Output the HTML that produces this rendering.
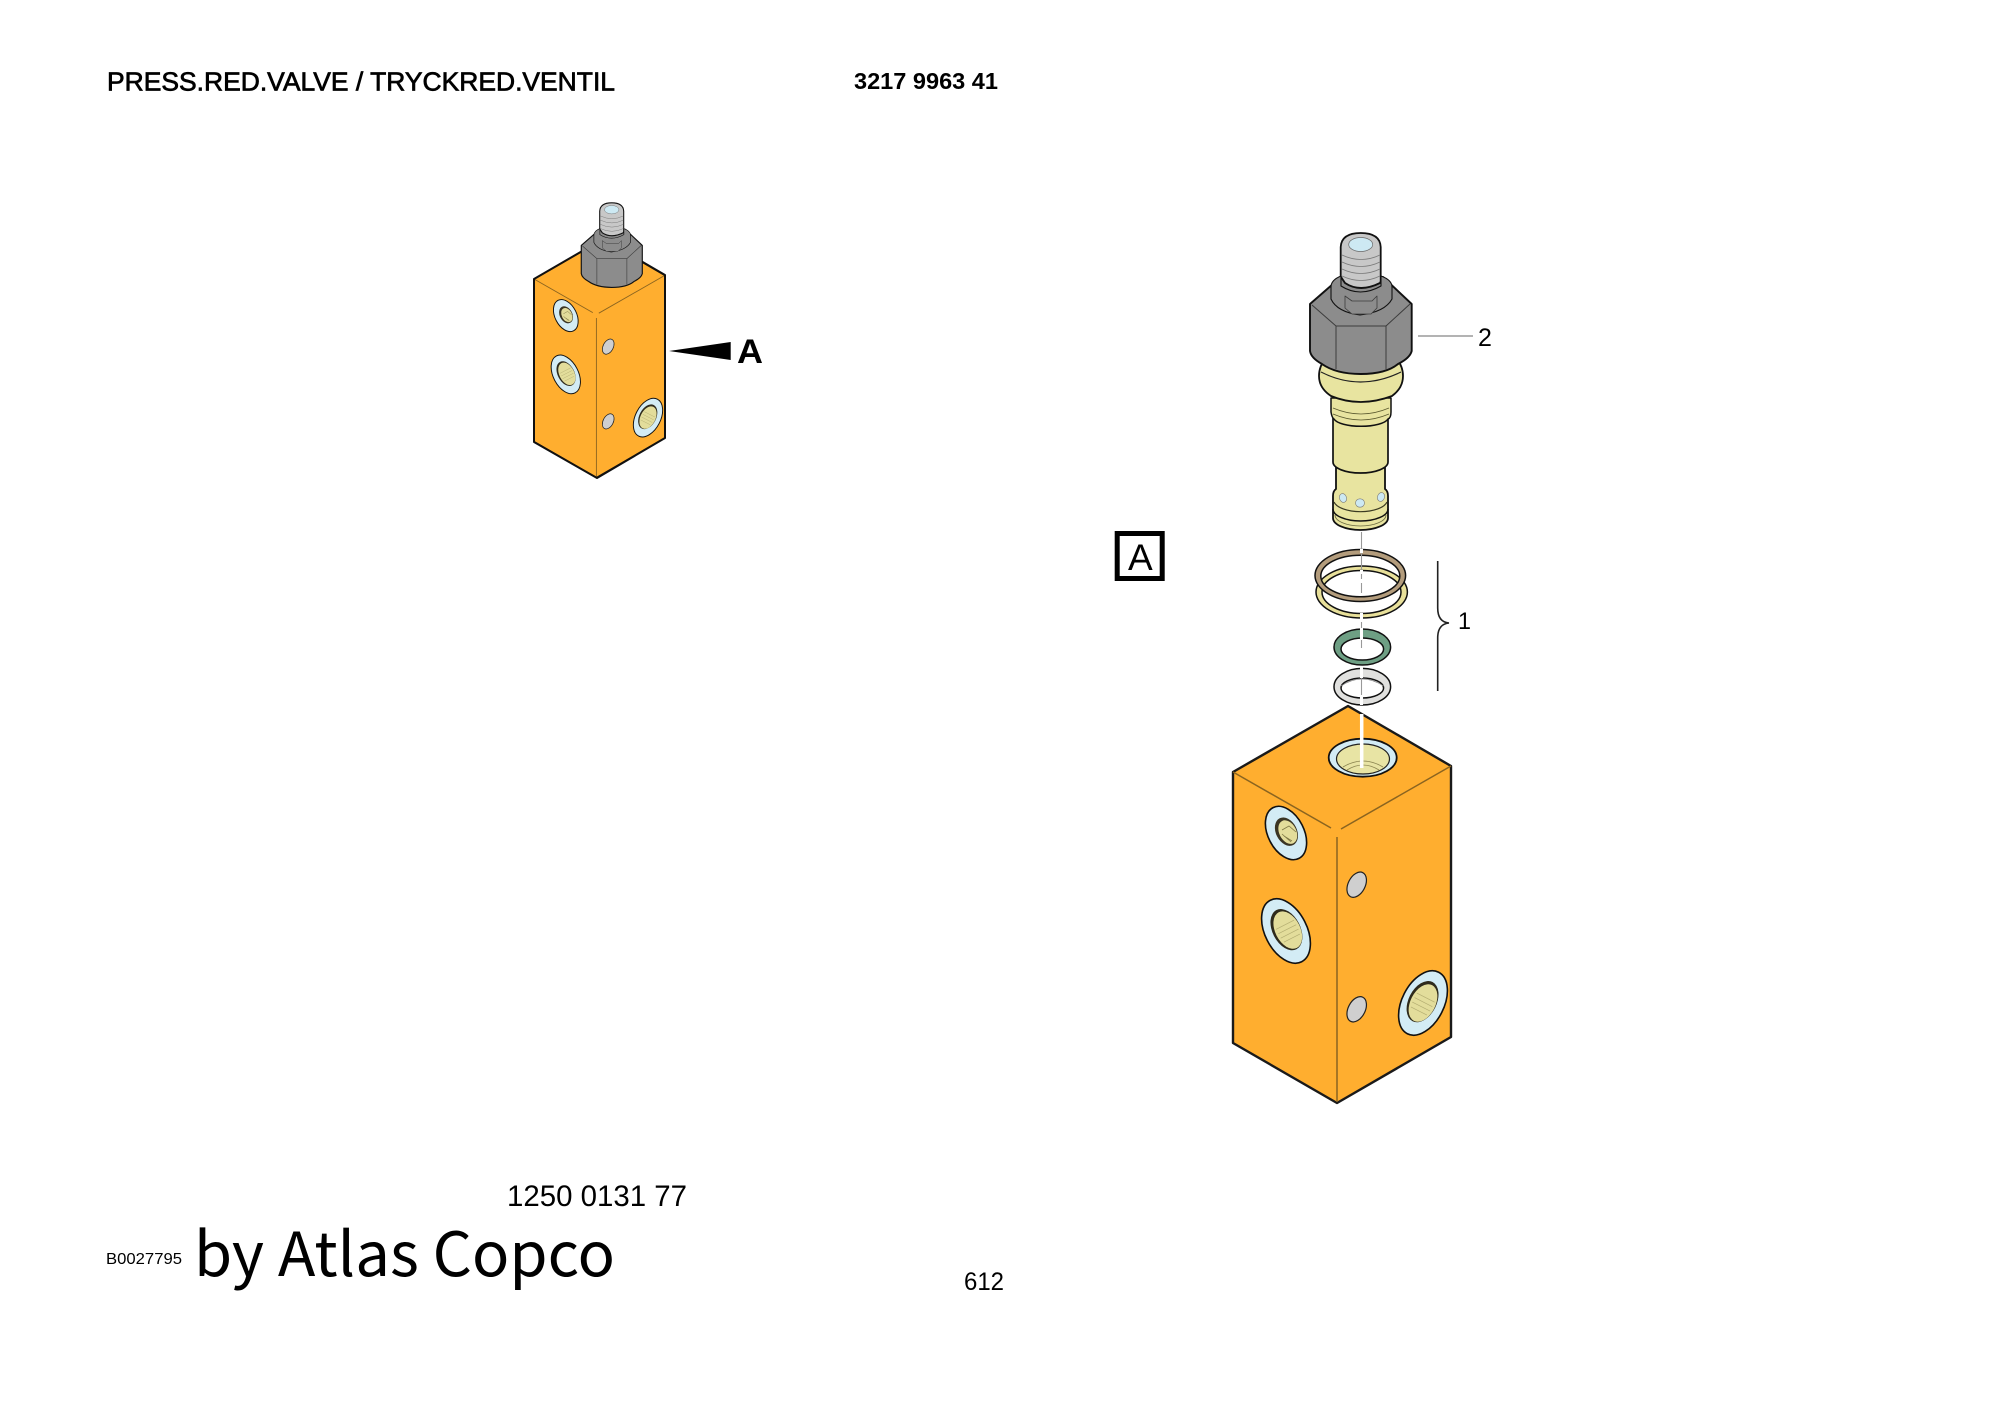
<!DOCTYPE html>
<html><head><meta charset="utf-8"><style>
html,body{margin:0;padding:0;background:#fff}
svg{display:block}
text{font-family:"Liberation Sans",sans-serif;fill:#000}
</style></head><body>
<svg width="2000" height="1415" viewBox="0 0 2000 1415" xmlns="http://www.w3.org/2000/svg">
<defs>
<g id="blk">
  <polygon points="1233,772 1348,706 1451,766 1451,1037 1337,1103 1233,1043" fill="#FFAE2F" stroke="#1a1a1a" stroke-width="2.4" stroke-linejoin="round"/>
  <path d="M1233,772 L1331,828 M1341,829 L1451,766 M1337,837 V1102" fill="none" stroke="#8a6420" stroke-width="1.5"/>
  <g transform="rotate(-27 1286 833)">
    <ellipse cx="1286" cy="833" rx="18" ry="28.5" fill="#D3ECF5" stroke="#111" stroke-width="1.6"/>
    <ellipse cx="1287" cy="832" rx="10.5" ry="15" fill="#3a3524"/>
    <ellipse cx="1288" cy="833" rx="8.5" ry="12.5" fill="#E3DD9B"/>
  </g>
  <path d="M1282,830 l7,-4 l7,6 M1284,836 l8,5 M1282,834 l9,8" stroke="#7d7744" stroke-width=".8" fill="none"/>
  <g transform="rotate(-27 1286 931)">
    <ellipse cx="1286" cy="931" rx="21" ry="34.5" fill="#D3ECF5" stroke="#111" stroke-width="1.6"/>
    <ellipse cx="1287" cy="930" rx="14" ry="22" fill="#2f2b1c"/>
    <ellipse cx="1288" cy="931" rx="12.5" ry="20" fill="#E3DD9B"/>
    <path d="M1278,925 h20 M1278,930 h20 M1278,935 h20 M1279,940 h18" stroke="#b4ae72" stroke-width=".7"/>
  </g>
  <g transform="rotate(27 1423 1003)">
    <ellipse cx="1423" cy="1003" rx="21" ry="34.5" fill="#D3ECF5" stroke="#111" stroke-width="1.6"/>
    <ellipse cx="1422" cy="1002" rx="14" ry="22" fill="#2f2b1c"/>
    <ellipse cx="1423" cy="1003" rx="12.5" ry="20" fill="#E3DD9B"/>
    <path d="M1413,997 h20 M1413,1002 h20 M1413,1007 h20 M1414,1012 h18" stroke="#b4ae72" stroke-width=".7"/>
  </g>
  <ellipse cx="1356.7" cy="884.7" rx="8.5" ry="13.5" transform="rotate(27 1356.7 884.7)" fill="#CFCFCF" stroke="#222" stroke-width="1.2"/>
  <ellipse cx="1356.7" cy="1009.3" rx="8.5" ry="13.5" transform="rotate(27 1356.7 1009.3)" fill="#CFCFCF" stroke="#222" stroke-width="1.2"/>
</g>
<g id="head" stroke="#111" stroke-linejoin="round">
  <path d="M1340.7,247 Q1341.5,233 1360.7,233 Q1380,233 1380.7,247 V292 Q1360,302 1340.7,292 Z" fill="#C8C8C8" stroke-width="1.8"/>
  <ellipse cx="1360.7" cy="244.5" rx="12" ry="7" fill="#CDE9F3" stroke="#6a6a6a" stroke-width=".7"/>
  <path d="M1342,255 q19,9 38,0 M1342,262 q19,9 38,0 M1342,269 q19,9 38,0 M1342,276 q19,9 38,0 M1342,283 q19,9 38,0" fill="none" stroke="#7a7a7a" stroke-width=".8"/>
  <path d="M1310,304 L1341,277 L1345,283 Q1360,293 1380,283 L1383,277 L1411.7,304 V351 Q1410,358 1398,364 Q1386,374 1360.7,374 Q1336,374 1322,364 Q1311,358 1310,351 Z" fill="#8C8C8C" stroke-width="1.9"/>
  <path d="M1312,305 L1336,326 H1386 L1410,304" fill="none" stroke="#3c3c3c" stroke-width="1"/>
  <path d="M1336,326 V369 M1386,326 V369" stroke="#3c3c3c" stroke-width="1" fill="none"/>
  <path d="M1331,287 Q1331,280 1341,276 V286 Q1360,298 1381,286 V276 Q1392,280 1392,287 V299 Q1385,312 1360,315 Q1337,312 1331,299 Z" fill="#8C8C8C" stroke-width="1.1"/>
  <path d="M1345,296 L1352,301 H1372 L1377,296 V308 L1371,314 H1352 L1345,308 Z" fill="#8C8C8C" stroke="#3c3c3c" stroke-width=".8"/>
</g>
</defs>

<!-- headings -->
<text x="107" y="90.5" font-size="26" textLength="508" lengthAdjust="spacingAndGlyphs" stroke="#000" stroke-width=".7">PRESS.RED.VALVE / TRYCKRED.VENTIL</text>
<text x="854" y="89" font-size="23" font-weight="bold" textLength="144" lengthAdjust="spacingAndGlyphs">3217 9963 41</text>

<!-- small assembly -->
<use href="#blk" transform="translate(534 279) scale(.6) translate(-1233 -772)"/>
<polygon points="534,279 603,239 665,275 665,438 597,478 534,442" fill="none" stroke="#111" stroke-width="2" stroke-linejoin="round"/>
<use href="#head" transform="translate(611.7 210) scale(.6) translate(-1360.7 -245)"/>
<polygon points="669,351 730.7,342 730.7,360" fill="#000"/>
<text x="737" y="363" font-size="34" font-weight="bold" textLength="26" lengthAdjust="spacingAndGlyphs">A</text>

<!-- large block -->
<use href="#blk"/>
<!-- top hole -->
<ellipse cx="1362.7" cy="757.7" rx="34" ry="19" fill="#D3ECF5" stroke="#111" stroke-width="1.8"/>
<ellipse cx="1363" cy="759" rx="26.5" ry="15" fill="#E8E4A4" stroke="#222" stroke-width="1.2"/>
<path d="M1343,767 Q1363,755 1383,767 M1347,770 Q1363,760 1379,770" stroke="#8a8450" stroke-width=".8" fill="none"/>

<!-- rings -->
<path fill-rule="evenodd" d="M1316,592 a45.7,26 0 1 0 91.4,0 a45.7,26 0 1 0 -91.4,0 Z M1322,592 a39.5,21.5 0 1 0 79,0 a39.5,21.5 0 1 0 -79,0 Z" fill="#E8E09A" stroke="#111" stroke-width="1.5"/>
<path fill-rule="evenodd" d="M1315,575.5 a45.3,26 0 1 0 90.6,0 a45.3,26 0 1 0 -90.6,0 Z M1320.8,576 a39.5,20.8 0 1 0 79,0 a39.5,20.8 0 1 0 -79,0 Z" fill="#B39C7C" stroke="#111" stroke-width="1.5"/>
<path fill-rule="evenodd" d="M1334,647 a28.3,18 0 1 0 56.6,0 a28.3,18 0 1 0 -56.6,0 Z M1341,649 a21.3,11 0 1 0 42.6,0 a21.3,11 0 1 0 -42.6,0 Z" fill="#6E9F84" stroke="#111" stroke-width="1.5"/>
<path fill-rule="evenodd" d="M1334,686.7 a28.3,18.3 0 1 0 56.6,0 a28.3,18.3 0 1 0 -56.6,0 Z M1341,688 a21.3,10 0 1 0 42.6,0 a21.3,10 0 1 0 -42.6,0 Z" fill="#E0E0DE" stroke="#111" stroke-width="1.5"/>
<path d="M1341,686 q21,-14 42.6,0" fill="none" stroke="#888" stroke-width=".8"/>

<!-- centre line -->
<path d="M1361.5,532 V549 M1361.5,553 V593 M1361.5,622 V650 M1361.5,670 V698" stroke="#999" stroke-width="1.1" stroke-dasharray="26 4" fill="none"/>
<path d="M1361.5,549 V553 M1361.5,570 V574 M1361.5,613 V622 M1361.5,628 V640 M1361.5,667 V678 M1361.5,695 V705" stroke="#fff" stroke-width="3" fill="none"/>
<path d="M1361.7,714 V768" stroke="#fff" stroke-width="3.5" fill="none"/>

<!-- cartridge lower -->
<g stroke="#111" stroke-linejoin="round">
  <path d="M1336,465 V489 Q1333,491 1333,496 V518 A27.5,12 0 0 0 1388,518 V496 Q1388,491 1385,489 V465 Z" fill="#E8E4A0" stroke-width="1.8"/>
  <path d="M1334,502 A27,12 0 0 0 1387,502" fill="none" stroke="#3a3a22" stroke-width="1.2"/>
  <path d="M1333,509 A27.5,12 0 0 0 1388,509" fill="none" stroke-width="1.5"/>
  <path d="M1335,515 A25.5,11 0 0 0 1386,515" fill="none" stroke="#6b6a40" stroke-width=".8"/>
  <ellipse cx="1343" cy="498" rx="3.5" ry="4.5" transform="rotate(-20 1343 498)" fill="#CDE9F3" stroke="#777" stroke-width=".6"/>
  <ellipse cx="1360" cy="503" rx="4.5" ry="4.2" fill="#CDE9F3" stroke="#777" stroke-width=".6"/>
  <ellipse cx="1381" cy="497" rx="3.5" ry="4.5" transform="rotate(20 1381 497)" fill="#CDE9F3" stroke="#777" stroke-width=".6"/>
  <path d="M1333,415 V462 A27.5,11 0 0 0 1388,462 V415 Z" fill="#E8E4A0" stroke-width="1.7"/>
  <path d="M1331,398 V412 Q1332,418 1334,419 A27.5,9 0 0 0 1388,419 Q1391,418 1391,412 V398 Z" fill="#E8E4A0" stroke-width="1.5"/>
  <path d="M1333,408 q28,12 56,0 M1333,414 q28,12 56,0" fill="none" stroke="#5b5a30" stroke-width=".8"/>
  <path d="M1326,358 Q1319,366 1319,376 Q1319,388 1331,396 Q1360,408 1392,396 Q1403,388 1403,376 Q1403,366 1396,358 Z" fill="#E8E4A0" stroke-width="1.8"/>
  <path d="M1321,372 Q1360,392 1401,372" fill="none" stroke="#222" stroke-width="1.2"/>
</g>
<use href="#head"/>

<!-- leader & labels -->
<path d="M1418,336 H1473" stroke="#9a9a9a" stroke-width="1.4"/>
<text x="1478" y="346" font-size="25">2</text>

<path d="M1437.7,561 V608 Q1437.7,622 1449,623 Q1437.7,624 1437.7,638 V691" stroke="#222" stroke-width="1.6" fill="none"/>
<text x="1458" y="629" font-size="24" textLength="13" lengthAdjust="spacingAndGlyphs">1</text>

<rect x="1117.2" y="533.5" width="45" height="45" fill="#fff" stroke="#000" stroke-width="5"/>
<text x="1128" y="570" font-size="37">A</text>

<text x="507" y="1206" font-size="30" textLength="180" lengthAdjust="spacingAndGlyphs">1250 0131 77</text>
<text x="106" y="1264" font-size="16" textLength="76" lengthAdjust="spacingAndGlyphs">B0027795</text>
<text x="194" y="1276" font-size="61" textLength="421" lengthAdjust="spacingAndGlyphs" style="font-family:'Noto Sans CJK SC','Liberation Sans',sans-serif">by Atlas Copco</text>
<text x="964" y="1290" font-size="25" textLength="40" lengthAdjust="spacingAndGlyphs">612</text>
</svg>
</body></html>
